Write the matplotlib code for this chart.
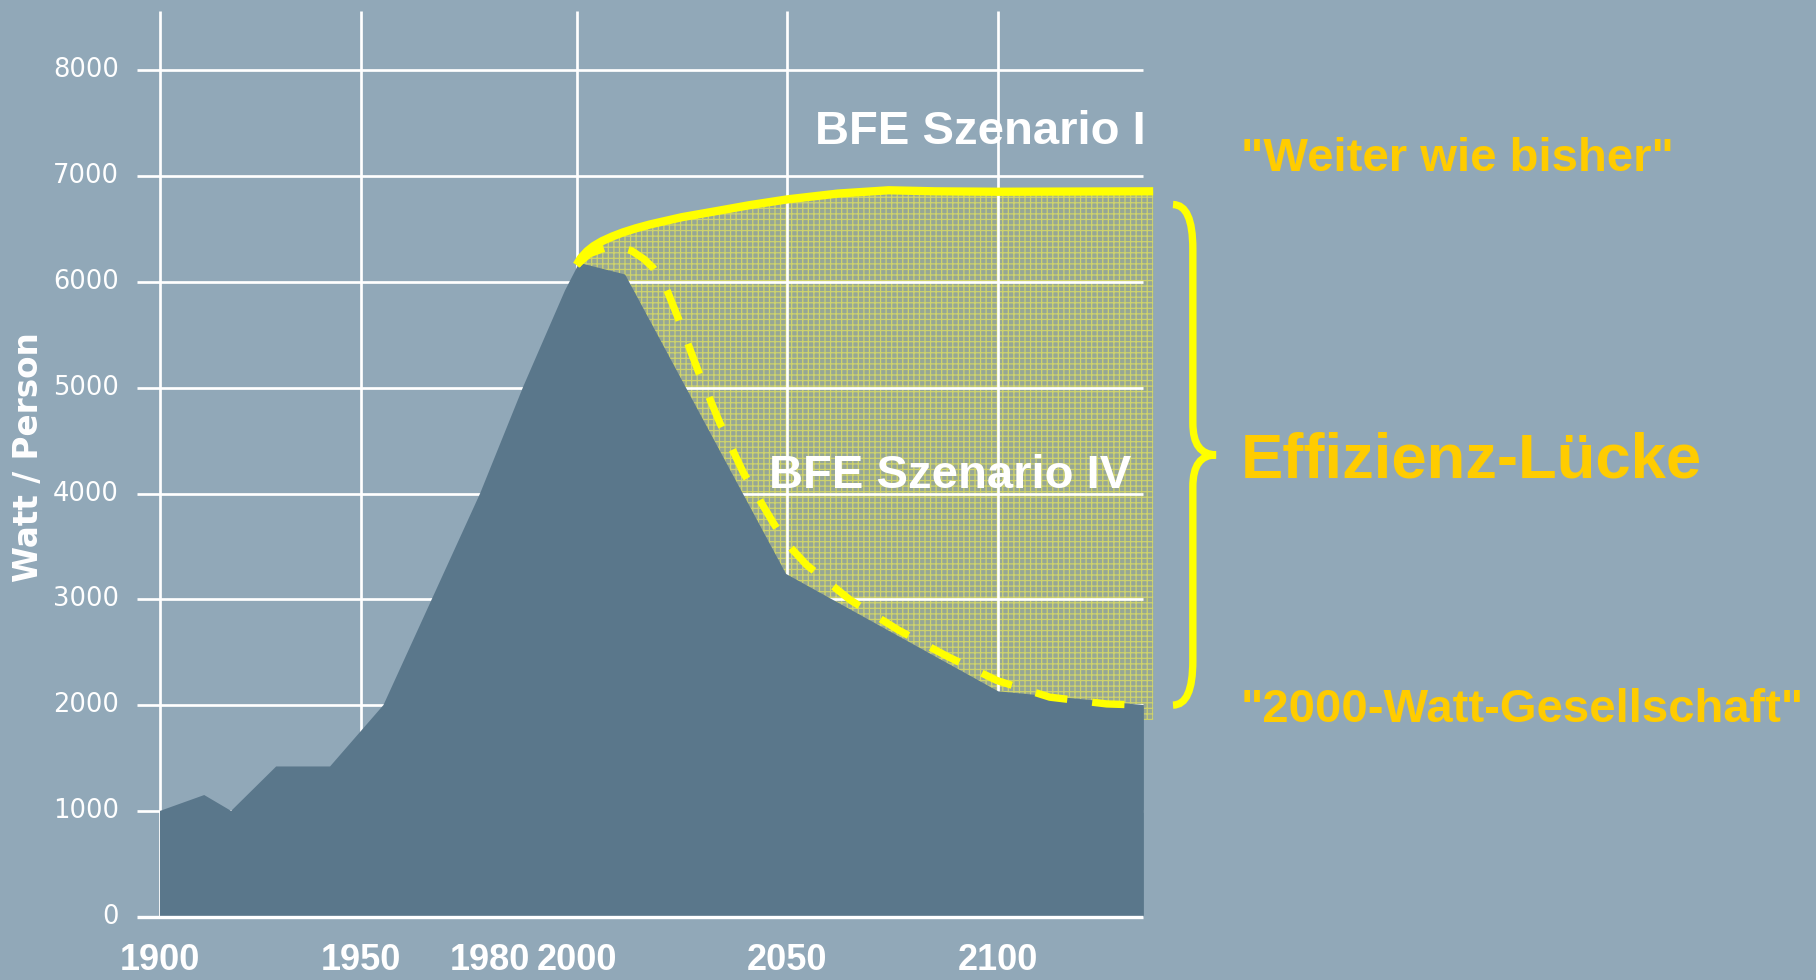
import numpy as np
import matplotlib
matplotlib.use("Agg")
import matplotlib.pyplot as plt
from matplotlib.path import Path
from matplotlib.patches import PathPatch

# historic consumption (dark area)
hist_years = [1900, 1911, 1917.7, 1928.9, 1942.3, 1955.2, 1966.4, 1977.6, 1987.6,
              1997.3, 2000.6, 2011.5, 2049.7, 2100, 2134.5]
hist_watt = [1000, 1150, 1000, 1420, 1420, 2000, 3000, 4000, 5010,
             5920, 6180, 6070, 3240, 2130, 2000]

# BFE Szenario I ("Weiter wie bisher")
scen1_years = [2000, 2001, 2002.5, 2004, 2006, 2008.5, 2011, 2014, 2017.4, 2025,
               2033, 2041, 2050, 2062, 2074, 2085, 2100, 2136.7]
scen1_watt = [6160, 6225, 6290, 6338, 6385, 6430, 6468, 6506, 6543, 6612,
              6668, 6725, 6780, 6835, 6866, 6856, 6852, 6856]

# BFE Szenario IV ("2000-Watt-Gesellschaft")
scen4_years = [2000, 2003, 2006.5, 2010, 2013, 2016, 2018.2, 2021.4, 2024.1, 2028.9,
               2034, 2039.6, 2046.7, 2049.5, 2054.6, 2064.9, 2076.3, 2087.7, 2099.7,
               2112.2, 2125.7, 2134.3]
scen4_watt = [6160, 6265, 6318, 6330, 6295, 6215, 6131, 5925, 5658, 5152,
              4666, 4194, 3721, 3544, 3324, 2994, 2710, 2465, 2232,
              2075, 2011, 2000]
gap_floor = 1860

x_ticks = [1900, 1950, 1980, 2000, 2050, 2100]
x_grid = [1900, 1950, 2000, 2050, 2100]
y_ticks = [0, 1000, 2000, 3000, 4000, 5000, 6000, 7000, 8000]

BG = "#91a8b8"
DARK = "#5a778b"
YELLOW = "#ffff00"
ORANGE = "#ffcc00"

# the original time axis is not uniform (1900-1950 is squeezed)
brk_years = np.array([1700, 1900, 1950, 2000, 2050, 2100, 2500])
brk_px = np.array([160 - 200 * 4.02, 160, 361, 576.7, 787.3, 998.3, 998.3 + 400 * 4.22])


def fwd(x):
    return np.interp(x, brk_years, brk_px)


def inv(p):
    return np.interp(p, brk_px, brk_years)


W, H = 1816, 980
fig = plt.figure(figsize=(W / 100, H / 100), dpi=100, facecolor=BG)
ax = fig.add_axes([0, 0, 1, 1])
ax.set_xscale("function", functions=(fwd, inv))
ax.set_xlim(inv(0), inv(W))
ax.set_ylim(-598.3, 8664.5)
ax.axis("off")

plt.rcParams["hatch.linewidth"] = 0.9

# efficiency gap (hatched)
ax.fill_between(scen1_years, gap_floor, scen1_watt, facecolor="#96a696",
                edgecolor="#cfd36c", hatch="+++", linewidth=0, zorder=1)

# grid
ax.hlines(y_ticks[1:], 1894.2, 2134.3, color="white", lw=1.95, zorder=2)
ax.vlines(x_grid, 0, 8560, color="white", lw=1.95, zorder=2)

ax.fill_between(hist_years, 0, hist_watt, facecolor=DARK, linewidth=0, zorder=3)
ax.hlines(0, 1894.2, 2134.3, color="white", lw=2.4, zorder=4)

ax.plot(scen1_years, scen1_watt, color=YELLOW, lw=6, solid_capstyle="butt",
        solid_joinstyle="round", zorder=5)
ax.plot(scen4_years, scen4_watt, color=YELLOW, lw=5.3, dashes=(4.4, 3.4),
        dash_capstyle="butt", zorder=5)

# curly brace between the two scenarios
xe = scen1_years[-1] + 4.7
xm = xe + 4.7
xt = xm + 5.5
top = scen1_watt[-1] - 125
bot = scen4_watt[-1]
mid = (top + bot) / 2
r, r2 = 420, 300
verts = [(xe, top), (xm, top), (xm, top - r),
         (xm, mid + r2), (xm, mid), (xt, mid),
         (xm, mid), (xm, mid - r2),
         (xm, bot + r), (xm, bot), (xe, bot)]
codes = [Path.MOVETO, Path.CURVE3, Path.CURVE3,
         Path.LINETO, Path.CURVE3, Path.CURVE3,
         Path.CURVE3, Path.CURVE3,
         Path.LINETO, Path.CURVE3, Path.CURVE3]
ax.add_patch(PathPatch(Path(verts, codes), facecolor="none", edgecolor=YELLOW,
                       lw=5.3, capstyle="butt", clip_on=False, zorder=5))

# tick labels
for v in y_ticks:
    ax.text(inv(119), v, str(v), ha="right", va="center", color="white",
            fontsize=18.5, family="DejaVu Sans", zorder=6)
for yr in x_ticks:
    ax.text(yr, -410, str(yr), ha="center", va="center", color="white",
            fontsize=26, fontweight="bold", family="Liberation Sans", zorder=6)

fig.text(29 / W, 1 - 457 / H, "Watt / Person", rotation=90, ha="center", va="center",
         color="white", fontsize=23.5, fontweight="bold", family="DejaVu Sans")

arial = dict(family="Liberation Sans", fontweight="bold")
fig.text(1146 / W, 1 - 143.6 / H, "BFE Szenario I", ha="right", va="baseline",
         color="white", fontsize=34, **arial)
fig.text(1131 / W, 1 - 488 / H, "BFE Szenario IV", ha="right", va="baseline",
         color="white", fontsize=34, **arial)
fig.text(1241 / W, 1 - 171 / H, '"Weiter wie bisher"', ha="left", va="baseline",
         color=ORANGE, fontsize=34, **arial)
fig.text(1241 / W, 1 - 477 / H, "Effizienz-Lücke", ha="left", va="baseline",
         color=ORANGE, fontsize=45.6, **arial)
fig.text(1241 / W, 1 - 722 / H, '"2000-Watt-Gesellschaft"', ha="left", va="baseline",
         color=ORANGE, fontsize=34, **arial)

fig.savefig("out.png", dpi=100, facecolor=BG)
